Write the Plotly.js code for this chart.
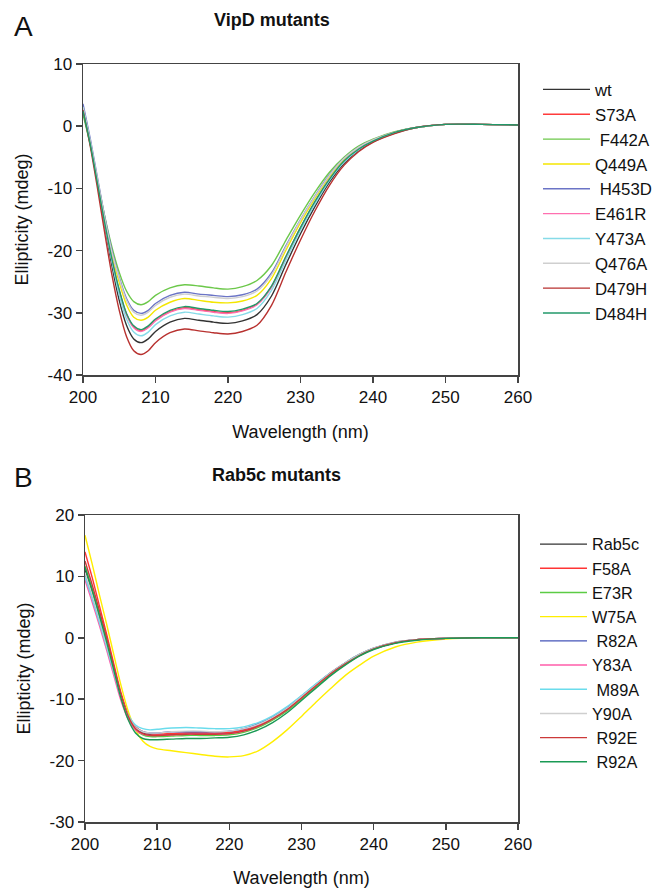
<!DOCTYPE html>
<html>
<head>
<meta charset="utf-8">
<script src="https://cdn.plot.ly/plotly-3.0.1.min.js"></script>
<style>html,body{margin:0;padding:0;background:#fff;}#chart{width:669px;height:888px;}</style>
</head>
<body>
<div id="chart"></div>
<script>
// Shared wavelength grid (nm)
const wavelength = [200,201,202,203,204,205,206,207,208,209,210,212,214,216,218,220,222,224,226,228,230,232,234,236,238,240,243,246,250,255,260];

// ---- Panel A: VipD mutants (mdeg) ----
const namesA = ['wt','S73A','\u00a0F442A','Q449A','\u00a0H453D','E461R','Y473A','Q476A','D479H','D484H'];
const colorsA = ['#333333','#ff3b3b','#6cc84a','#f4e600','#6b74c6','#ff6fb0','#86dbe8','#cfcfcf','#b8312f','#22996a'];
const wt    = [3.0,-2.5,-9.0,-16.0,-22.5,-28.0,-32.0,-34.2,-34.8,-34.2,-33.0,-31.5,-30.9,-31.2,-31.5,-31.7,-31.3,-30.3,-27.3,-22.2,-17.3,-12.9,-9.0,-6.0,-3.9,-2.5,-1.1,-0.2,0.3,0.3,0.2];
const S73A  = [2.8,-2.7,-9.1,-15.6,-21.5,-26.5,-30.2,-32.3,-32.9,-32.3,-31.2,-29.8,-29.2,-29.5,-29.8,-30.0,-29.6,-28.6,-25.8,-21.0,-16.3,-12.2,-8.5,-5.7,-3.7,-2.4,-1.0,-0.2,0.3,0.3,0.2];
const F442A = [1.9,-3.0,-8.8,-14.5,-19.5,-23.5,-26.5,-28.2,-28.7,-28.2,-27.2,-26.0,-25.5,-25.7,-26.0,-26.2,-25.8,-24.8,-22.4,-18.3,-14.3,-10.6,-7.4,-5.0,-3.2,-2.1,-0.9,-0.2,0.3,0.3,0.2];
const Q449A = [2.6,-2.6,-8.8,-15.0,-20.7,-25.1,-28.7,-30.7,-31.2,-30.7,-29.6,-28.3,-27.7,-28.0,-28.3,-28.4,-28.1,-27.2,-24.5,-19.9,-15.5,-11.6,-8.1,-5.4,-3.5,-2.2,-1.0,-0.2,0.3,0.3,0.2];
const H453D = [3.6,-2.0,-8.3,-14.6,-20.0,-24.3,-27.7,-29.6,-30.1,-29.6,-28.5,-27.2,-26.7,-27.0,-27.2,-27.4,-27.1,-26.2,-23.6,-19.2,-15.0,-11.2,-7.8,-5.2,-3.4,-2.2,-1.0,-0.2,0.3,0.3,0.2];
const E461R = [2.7,-2.8,-9.2,-15.7,-21.6,-26.6,-30.3,-32.4,-33.0,-32.4,-31.3,-29.9,-29.3,-29.6,-29.9,-30.1,-29.7,-28.7,-25.9,-21.0,-16.4,-12.2,-8.5,-5.7,-3.7,-2.4,-1.0,-0.2,0.3,0.3,0.2];
const Y473A = [3.1,-2.5,-8.9,-15.6,-21.8,-27.1,-31.0,-33.1,-33.7,-33.1,-31.9,-30.5,-29.9,-30.2,-30.5,-30.7,-30.3,-29.3,-26.4,-21.5,-16.7,-12.5,-8.7,-5.8,-3.8,-2.4,-1.1,-0.2,0.3,0.3,0.2];
const Q476A = [3.0,-2.4,-8.6,-14.8,-20.3,-24.5,-28.0,-29.9,-30.4,-29.9,-28.8,-27.5,-27.0,-27.3,-27.5,-27.7,-27.4,-26.5,-23.9,-19.4,-15.1,-11.3,-7.9,-5.2,-3.4,-2.2,-1.0,-0.2,0.3,0.3,0.2];
const D479H = [2.6,-3.2,-10.0,-17.2,-24.0,-29.6,-33.8,-36.1,-36.7,-36.1,-34.8,-33.2,-32.6,-32.9,-33.2,-33.4,-33.0,-32.0,-28.8,-23.4,-18.3,-13.6,-9.5,-6.3,-4.1,-2.6,-1.2,-0.2,0.3,0.3,0.2];
const D484H = [2.4,-2.9,-9.2,-15.6,-21.4,-26.3,-30.1,-32.1,-32.7,-32.1,-31.0,-29.6,-29.0,-29.3,-29.6,-29.8,-29.4,-28.5,-25.7,-20.9,-16.3,-12.1,-8.5,-5.6,-3.7,-2.4,-1.0,-0.2,0.3,0.3,0.2];
const seriesA = [wt,S73A,F442A,Q449A,H453D,E461R,Y473A,Q476A,D479H,D484H];

// ---- Panel B: Rab5c mutants (mdeg) ----
const namesB = ['Rab5c','F58A','E73R','W75A','\u00a0R82A','Y83A','\u00a0M89A','Y90A','\u00a0R92E','\u00a0R92A'];
const colorsB = ['#333333','#ff3434','#5ccc44','#ffee00','#4455b8','#ff5caa','#6adcec','#cfcfcf','#cc3a3a','#1a9a55'];
const Rab5c = [11.1,7.5,3.5,-0.6,-5.0,-9.4,-12.7,-14.6,-15.5,-15.8,-15.9,-15.7,-15.6,-15.6,-15.6,-15.5,-15.1,-14.4,-13.3,-11.8,-9.9,-7.9,-6.0,-4.3,-2.9,-1.8,-0.8,-0.3,-0.1,0.0,0.0];
const F58A  = [14.0,9.8,5.2,0.6,-4.3,-9.0,-12.5,-14.5,-15.3,-15.6,-15.7,-15.6,-15.5,-15.5,-15.5,-15.4,-15.0,-14.2,-13.0,-11.5,-9.6,-7.6,-5.7,-4.1,-2.7,-1.7,-0.7,-0.3,-0.1,0.0,0.0];
const E73R  = [11.7,7.9,3.8,-0.5,-5.1,-9.6,-13.0,-15.0,-15.8,-16.1,-16.1,-16.0,-15.9,-15.9,-15.9,-15.8,-15.4,-14.6,-13.4,-11.9,-10.0,-8.0,-6.1,-4.4,-2.9,-1.8,-0.8,-0.3,-0.1,0.0,0.0];
const W75A  = [16.7,12.0,7.0,2.2,-2.8,-7.8,-12.0,-15.0,-16.8,-17.7,-18.1,-18.4,-18.7,-19.0,-19.3,-19.4,-19.2,-18.4,-16.9,-15.0,-12.8,-10.5,-8.3,-6.2,-4.5,-3.0,-1.5,-0.7,-0.2,0.0,0.0];
const R82A  = [10.2,6.6,2.7,-1.3,-5.6,-9.8,-12.9,-14.6,-15.3,-15.5,-15.5,-15.3,-15.3,-15.3,-15.3,-15.2,-14.8,-14.0,-12.9,-11.4,-9.5,-7.6,-5.8,-4.2,-2.8,-1.7,-0.8,-0.3,-0.1,0.0,0.0];
const Y83A  = [9.4,5.8,2.0,-2.0,-6.2,-10.3,-13.3,-15.0,-15.7,-15.9,-15.9,-15.8,-15.7,-15.7,-15.7,-15.6,-15.2,-14.4,-13.2,-11.7,-9.8,-7.8,-5.9,-4.3,-2.9,-1.8,-0.8,-0.3,-0.1,0.0,0.0];
const M89A  = [10.0,6.4,2.5,-1.5,-5.7,-9.7,-12.6,-14.2,-14.8,-15.0,-14.9,-14.7,-14.6,-14.7,-14.8,-14.8,-14.5,-13.8,-12.7,-11.2,-9.4,-7.5,-5.7,-4.1,-2.7,-1.7,-0.7,-0.3,-0.1,0.0,0.0];
const Y90A  = [10.6,7.0,3.1,-1.0,-5.3,-9.6,-12.8,-14.6,-15.3,-15.5,-15.5,-15.3,-15.2,-15.2,-15.3,-15.2,-14.8,-14.1,-13.0,-11.5,-9.6,-7.7,-5.8,-4.2,-2.8,-1.7,-0.8,-0.3,-0.1,0.0,0.0];
const R92E  = [12.5,8.6,4.4,0.0,-4.7,-9.3,-12.8,-14.8,-15.6,-15.9,-15.9,-15.8,-15.7,-15.7,-15.7,-15.6,-15.2,-14.4,-13.2,-11.7,-9.8,-7.8,-5.9,-4.3,-2.9,-1.8,-0.8,-0.3,-0.1,0.0,0.0];
const R92A  = [11.5,7.7,3.6,-0.7,-5.3,-9.9,-13.4,-15.5,-16.4,-16.6,-16.6,-16.5,-16.4,-16.4,-16.3,-16.2,-15.8,-15.0,-13.8,-12.2,-10.2,-8.2,-6.2,-4.5,-3.0,-1.9,-0.9,-0.4,-0.1,0.0,0.0];
const seriesB = [Rab5c,F58A,E73R,W75A,R82A,Y83A,M89A,Y90A,R92E,R92A];

// Tick labels
const xTicks = [200,210,220,230,240,250,260];
const yTicksA = [10,0,-10,-20,-30,-40];
const yTicksB = [20,10,0,-10,-20,-30];

const traces = [];
seriesA.forEach((ys, i) => traces.push({
  x: wavelength, y: ys, type: 'scatter', mode: 'lines', name: namesA[i],
  line: {color: colorsA[i], width: 1.4, shape: 'spline', smoothing: 0.8},
  xaxis: 'x', yaxis: 'y', legend: 'legend'
}));
seriesB.forEach((ys, i) => traces.push({
  x: wavelength, y: ys, type: 'scatter', mode: 'lines', name: namesB[i],
  line: {color: colorsB[i], width: 1.4, shape: 'spline', smoothing: 0.8},
  xaxis: 'x2', yaxis: 'y2', legend: 'legend2'
}));

const W = 669, H = 888;
const font = {family: 'Liberation Sans, Arial, sans-serif', color: '#111'};
function xa(domain, anchor) {
  return {
    domain: domain, anchor: anchor, range: [200, 260],
    tickvals: xTicks, ticktext: xTicks.map(String),
    ticks: 'outside', ticklen: 6, tickwidth: 1.5, tickcolor: '#444',
    showline: true, linecolor: '#444', linewidth: 1.5, mirror: true,
    showgrid: false, zeroline: false, tickfont: {size: 17, color: '#111'},
    title: {text: 'Wavelength (nm)', font: {size: 18, color: '#111'}, standoff: 19}
  };
}
function ya(domain, anchor, range, ticks) {
  return {
    domain: domain, anchor: anchor, range: range,
    tickvals: ticks, ticktext: ticks.map(v => String(v)),
    ticks: 'outside', ticklen: 6, tickwidth: 1.5, tickcolor: '#444',
    showline: true, linecolor: '#444', linewidth: 1.5, mirror: true,
    showgrid: false, zeroline: false, tickfont: {size: 17, color: '#111'},
    title: {text: 'Ellipticity (mdeg)', font: {size: 18, color: '#111'}, standoff: 14}
  };
}

const layout = {
  width: W, height: H, margin: {l: 0, r: 0, t: 0, b: 0},
  paper_bgcolor: '#fff', plot_bgcolor: '#fff', font: font, showlegend: true,
  xaxis: xa([83/W, 518/W], 'y'),
  yaxis: ya([1 - 375/H, 1 - 64/H], 'x', [-40, 10], yTicksA),
  xaxis2: xa([85/W, 518/W], 'y2'),
  yaxis2: ya([1 - 822/H, 1 - 515/H], 'x2', [-30, 20], yTicksB),
  legend: {x: 538/W, y: 1 - 72/H, xanchor: 'left', yanchor: 'top', bgcolor: 'rgba(0,0,0,0)',
           font: {size: 16.8, color: '#111'}, itemwidth: 47},
  legend2: {x: 535/W, y: 1 - 527/H, xanchor: 'left', yanchor: 'top', bgcolor: 'rgba(0,0,0,0)',
            font: {size: 16.3, color: '#111'}, itemwidth: 47},
  annotations: [
    {text: 'A', x: 12/W, y: 1 - 26/H, xref: 'paper', yref: 'paper', xanchor: 'left', yanchor: 'middle', showarrow: false, font: {size: 28, color: '#111'}},
    {text: '<b>VipD mutants</b>', x: 212/W, y: 1 - 20/H, xref: 'paper', yref: 'paper', xanchor: 'left', yanchor: 'middle', showarrow: false, font: {size: 18, color: '#111'}},
    {text: 'B', x: 12/W, y: 1 - 477/H, xref: 'paper', yref: 'paper', xanchor: 'left', yanchor: 'middle', showarrow: false, font: {size: 28, color: '#111'}},
    {text: '<b>Rab5c mutants</b>', x: 210/W, y: 1 - 475/H, xref: 'paper', yref: 'paper', xanchor: 'left', yanchor: 'middle', showarrow: false, font: {size: 18, color: '#111'}}
  ]
};

Plotly.newPlot('chart', traces, layout, {displayModeBar: false, staticPlot: true});
</script>
</body>
</html>
